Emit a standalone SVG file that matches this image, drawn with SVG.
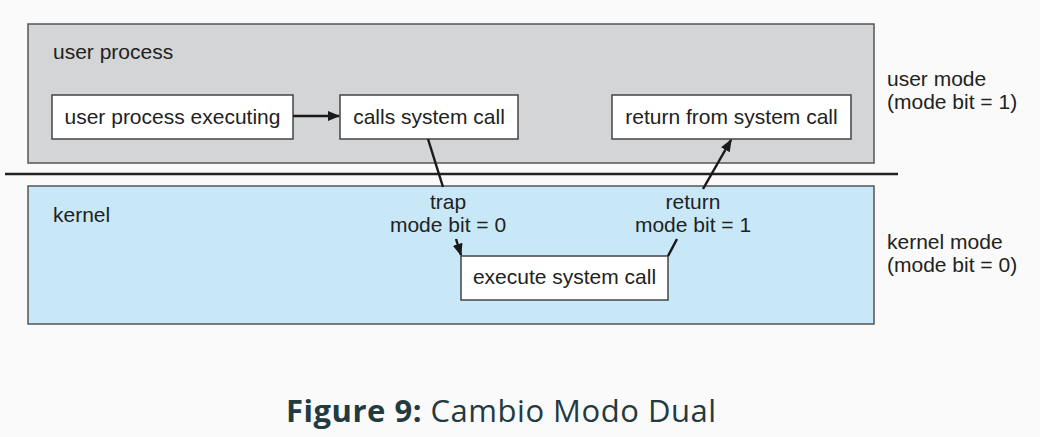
<svg xmlns="http://www.w3.org/2000/svg" width="1040" height="437" viewBox="0 0 1040 437">
<defs>
<style>
.t{font-family:"Liberation Sans",Arial,sans-serif;font-size:21px;fill:#222}
.c{text-anchor:middle}
.box{fill:#fff;stroke:#444;stroke-width:1.5}
.ln{stroke:#1a1a1a;stroke-width:2.5;fill:none}
.cap{font-family:"Open Sans",sans-serif;font-size:31px;fill:#233a40}
</style>
<marker id="ah" viewBox="0 0 10 10" refX="9" refY="5" markerWidth="5" markerHeight="5" orient="auto" markerUnits="strokeWidth">
<path d="M0,1 L10,5 L0,9 z" fill="#1a1a1a"/>
</marker>
</defs>
<rect width="1040" height="437" fill="#fafafa"/>
<g id="user-process">
<rect x="28" y="24" width="846" height="139" fill="#d4d5d7" stroke="#555" stroke-width="1.5"/>
<text class="t" x="53" y="59">user process</text>
</g>
<g id="kernel">
<rect x="28" y="186" width="846" height="138" fill="#c8e8f8" stroke="#555" stroke-width="1.5"/>
<text class="t" x="53" y="222">kernel</text>
</g>
<g id="divider">
<line x1="5" y1="174" x2="898" y2="174" stroke="#222" stroke-width="2.5"/>
</g>
<g id="user-process-executing">
<rect class="box" x="52" y="95" width="241" height="44"/>
<text class="t c" x="172.5" y="124">user process executing</text>
</g>
<g id="calls-system-call">
<rect class="box" x="340" y="95" width="178" height="44"/>
<text class="t c" x="429" y="124">calls system call</text>
</g>
<g id="return-from-system-call">
<rect class="box" x="612" y="95" width="239" height="44"/>
<text class="t c" x="731.5" y="124">return from system call</text>
</g>
<g id="execute-system-call">
<rect class="box" x="461" y="256" width="207" height="44"/>
<text class="t c" x="564.5" y="284">execute system call</text>
</g>
<g id="mode-labels">
<text class="t" x="887" y="86">user mode</text>
<text class="t" x="887" y="109">(mode bit = 1)</text>
<text class="t" x="887" y="249">kernel mode</text>
<text class="t" x="887" y="272">(mode bit = 0)</text>
</g>
<g id="connectors">
<line class="ln" x1="293" y1="116" x2="339" y2="116" marker-end="url(#ah)"/>
<line class="ln" x1="428" y1="139" x2="443" y2="187"/>
<text class="t c" x="448" y="209">trap</text>
<text class="t c" x="448" y="232">mode bit = 0</text>
<line class="ln" x1="456" y1="239" x2="461" y2="255" marker-end="url(#ah)"/>
<line class="ln" x1="668" y1="256" x2="677" y2="239"/>
<text class="t c" x="693" y="209">return</text>
<text class="t c" x="693" y="232">mode bit = 1</text>
<line class="ln" x1="703" y1="189" x2="731" y2="140" marker-end="url(#ah)"/>
</g>
<g id="caption">
<text class="cap" x="286" y="422" textLength="430" lengthAdjust="spacing"><tspan font-weight="bold">Figure 9:</tspan> Cambio Modo Dual</text>
</g>
</svg>
